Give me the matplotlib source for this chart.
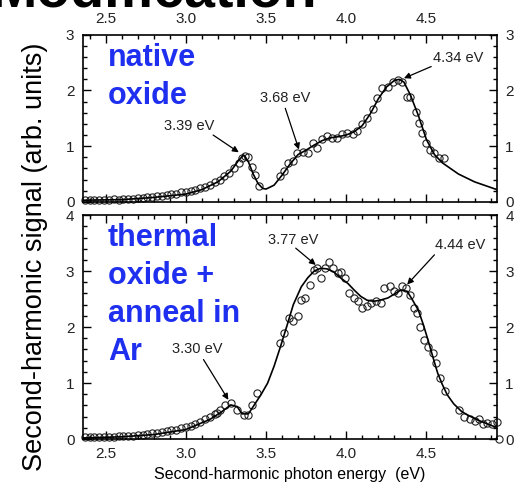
import numpy as np
import matplotlib
matplotlib.use("Agg")
import matplotlib.pyplot as plt
from matplotlib.ticker import MultipleLocator

plt.rcParams['font.family'] = ['Liberation Sans', 'DejaVu Sans']

# ---- top panel: native oxide ----
top_fit_x = [2.36, 2.6, 2.8, 3.0, 3.1, 3.2, 3.28, 3.33, 3.36, 3.39, 3.42, 3.45, 3.48, 3.50,
             3.55, 3.60, 3.65, 3.70, 3.75, 3.80, 3.85, 3.90, 3.95, 4.00, 4.05, 4.10, 4.15,
             4.20, 4.25, 4.30, 4.33, 4.36, 4.40, 4.45, 4.50, 4.55, 4.60, 4.70, 4.80, 4.94]
top_fit_y = [0.03, 0.04, 0.08, 0.14, 0.22, 0.36, 0.55, 0.75, 0.84, 0.72, 0.50, 0.33, 0.24, 0.23,
             0.30, 0.48, 0.68, 0.85, 0.93, 1.02, 1.10, 1.15, 1.17, 1.20, 1.26, 1.37, 1.58,
             1.85, 2.06, 2.18, 2.20, 2.15, 1.92, 1.55, 1.12, 0.85, 0.70, 0.50, 0.36, 0.22]

top_pts_x = [2.37, 2.40, 2.43, 2.46, 2.49, 2.52, 2.55, 2.58, 2.61, 2.64, 2.67, 2.70, 2.73, 2.76,
             2.79, 2.82, 2.85, 2.88, 2.91, 2.94, 2.97, 3.00, 3.03, 3.06, 3.09, 3.12, 3.15, 3.18,
             3.21, 3.24, 3.27, 3.30, 3.33, 3.35, 3.37, 3.39, 3.41, 3.43, 3.455,
             3.59, 3.61, 3.64, 3.67, 3.695, 3.73, 3.76, 3.79, 3.82, 3.85, 3.88, 3.91, 3.945,
             3.975, 4.005, 4.04, 4.07, 4.10, 4.13, 4.165, 4.195, 4.225, 4.26, 4.29, 4.32,
             4.35, 4.38, 4.40, 4.435, 4.455, 4.475, 4.50, 4.52, 4.55, 4.58, 4.61]
top_pts_y = [0.03, 0.03, 0.04, 0.03, 0.04, 0.04, 0.05, 0.04, 0.05, 0.06, 0.05, 0.07, 0.07, 0.08,
             0.09, 0.10, 0.11, 0.12, 0.14, 0.15, 0.17, 0.18, 0.20, 0.22, 0.25, 0.27, 0.30, 0.36,
             0.40, 0.46, 0.52, 0.60, 0.70, 0.78, 0.83, 0.80, 0.63, 0.48, 0.29,
             0.46, 0.55, 0.70, 0.73, 0.88, 0.90, 0.88, 1.06, 0.97, 1.12, 1.18, 1.15, 1.15,
             1.21, 1.24, 1.21, 1.27, 1.39, 1.51, 1.66, 1.86, 2.04, 2.07, 2.16, 2.19,
             2.16, 1.89, 1.89, 1.62, 1.42, 1.24, 1.06, 0.94, 0.88, 0.79, 0.79]

# ---- bottom panel: thermal oxide + anneal in Ar ----
bot_fit_x = [2.36, 2.6, 2.8, 3.0, 3.15, 3.22, 3.28, 3.32, 3.35, 3.39, 3.42, 3.47, 3.51, 3.55,
             3.59, 3.63, 3.67, 3.72, 3.76, 3.80, 3.84, 3.88, 3.92, 3.96, 4.01, 4.05, 4.09,
             4.13, 4.17, 4.21, 4.26, 4.30, 4.34, 4.38, 4.41, 4.45, 4.48, 4.51, 4.54, 4.57,
             4.60, 4.63, 4.67, 4.72, 4.77, 4.82, 4.88, 4.945]
bot_fit_y = [0.02, 0.04, 0.08, 0.17, 0.35, 0.48, 0.61, 0.58, 0.45, 0.45, 0.58, 0.80, 1.00, 1.30,
             1.65, 2.02, 2.40, 2.72, 2.88, 3.00, 3.05, 3.04, 2.99, 2.89, 2.78, 2.66, 2.55,
             2.48, 2.46, 2.48, 2.52, 2.59, 2.66, 2.64, 2.50, 2.30, 2.05, 1.77, 1.47, 1.18,
             0.97, 0.79, 0.63, 0.49, 0.41, 0.34, 0.27, 0.20]

bot_pts_x = [2.37, 2.40, 2.43, 2.46, 2.49, 2.52, 2.55, 2.58, 2.61, 2.64, 2.67, 2.70, 2.73, 2.76,
             2.79, 2.82, 2.85, 2.88, 2.91, 2.94, 2.97, 3.00, 3.03, 3.06, 3.09, 3.12, 3.15, 3.18,
             3.195, 3.215, 3.245, 3.28, 3.32, 3.36, 3.39, 3.41, 3.445,
             3.59, 3.615, 3.645, 3.67, 3.70, 3.72, 3.745, 3.775, 3.80, 3.82, 3.845, 3.87, 3.895,
             3.92, 3.95, 3.97, 3.99, 4.02, 4.05, 4.075, 4.10, 4.13, 4.155, 4.185, 4.215, 4.235,
             4.27, 4.30, 4.325, 4.345, 4.37, 4.395, 4.42, 4.44, 4.46, 4.485, 4.51, 4.54, 4.56,
             4.585, 4.615, 4.705, 4.735, 4.77, 4.80, 4.83, 4.85, 4.88, 4.91, 4.94, 4.955]
bot_pts_y = [0.03, 0.03, 0.03, 0.04, 0.04, 0.04, 0.04, 0.05, 0.05, 0.06, 0.06, 0.07, 0.08, 0.09,
             0.10, 0.11, 0.13, 0.14, 0.16, 0.17, 0.19, 0.21, 0.24, 0.27, 0.31, 0.35, 0.39, 0.44,
             0.46, 0.52, 0.61, 0.64, 0.52, 0.43, 0.43, 0.61, 0.82,
             1.71, 1.89, 2.16, 2.10, 2.19, 2.49, 2.52, 2.76, 3.02, 3.05, 2.87, 3.05, 3.17,
             3.05, 2.96, 2.99, 2.87, 2.61, 2.52, 2.46, 2.34, 2.37, 2.43, 2.46, 2.43, 2.70,
             2.73, 2.64, 2.61, 2.73, 2.70, 2.58, 2.34, 2.25, 2.01, 1.77, 1.65, 1.54, 1.36,
             1.09, 0.85, 0.52, 0.40, 0.35, 0.32, 0.35, 0.26, 0.29, 0.27, 0.30, 0.0]

# peak annotations: label, text position, arrow tail, arrow head
top_notes = [("3.39 eV", (3.02, 1.36), (3.17, 1.20), (3.33, 0.89)),
             ("3.68 eV", (3.62, 1.86), (3.62, 1.68), (3.705, 0.94)),
             ("4.34 eV", (4.70, 2.59), (4.53, 2.43), (4.36, 2.22))]
bot_notes = [("3.30 eV", (3.07, 1.60), (3.11, 1.42), (3.265, 0.70)),
             ("3.77 eV", (3.67, 3.56), (3.685, 3.41), (3.81, 3.11)),
             ("4.44 eV", (4.71, 3.47), (4.55, 3.29), (4.38, 2.76))]

top_label_lines = ["native", "oxide"]
bot_label_lines = ["thermal", "oxide +", "anneal in", "Ar"]

fig = plt.figure(figsize=(5.27, 4.90), dpi=100)
ax1 = fig.add_axes([0.157, 0.588, 0.786, 0.341])
ax2 = fig.add_axes([0.157, 0.104, 0.786, 0.457])

def style(ax, ymax, top_labels):
    ax.set_xlim(2.357, 4.94)
    ax.set_ylim(0, ymax)
    ax.xaxis.set_major_locator(MultipleLocator(0.5))
    ax.xaxis.set_minor_locator(MultipleLocator(0.1))
    ax.yaxis.set_major_locator(MultipleLocator(1))
    ax.yaxis.set_minor_locator(MultipleLocator(0.2))
    ax.tick_params(which='both', direction='in', top=True, bottom=True, left=True, right=True,
                   labelleft=True, labelright=True, labeltop=top_labels,
                   labelbottom=not top_labels, labelsize=11, labelcolor='#222222', width=1.0)
    ax.tick_params(which='major', length=5.5, pad=6)
    ax.tick_params(which='minor', length=3)
    ax.xaxis.set_major_formatter(plt.FuncFormatter(lambda v, p: "%.1f" % v))
    for s in ax.spines.values():
        s.set_linewidth(1.2)

for ax, fx, fy, px, py, notes, ymax, tl in [
        (ax1, top_fit_x, top_fit_y, top_pts_x, top_pts_y, top_notes, 3, True),
        (ax2, bot_fit_x, bot_fit_y, bot_pts_x, bot_pts_y, bot_notes, 4, False)]:
    ax.plot(px, py, 'o', mfc='none', mec='#222222', ms=5.2, mew=0.8, clip_on=False)
    ax.plot(fx, fy, '-', color='black', lw=1.2)
    for lab, tpos, tail, head in notes:
        ax.text(tpos[0], tpos[1], lab, fontsize=10.5, ha='center', va='center', color='#222222')
        ax.annotate('', xy=head, xytext=tail,
                    arrowprops=dict(arrowstyle='-|>', color='black', lw=0.9,
                                    mutation_scale=9, shrinkA=0, shrinkB=0))
    style(ax, ymax, tl)

# blue sample labels, one text per line (baselines ~38 px apart)
for ax, lines, y0 in [(ax1, top_label_lines, 66), (ax2, bot_label_lines, 246)]:
    for k, line in enumerate(lines):
        ypix = 490 - (y0 + 38 * k)
        ax.text(108 / 527, ypix / 490, line, transform=fig.transFigure, color='#1f2ff0',
                fontsize=22, fontweight='bold', va='baseline', ha='left')

ax2.set_xlabel("Second-harmonic photon energy  (eV)", fontsize=11.5, labelpad=4)
fig.text(0.066, 0.475, "Second-harmonic signal (arb. units)", rotation=90, fontsize=19.5,
         ha='center', va='center')
fig.text(0.6015, 0.987, "Modification", fontsize=40, fontweight='bold', ha='right',
         va='baseline')

fig.savefig("out.png", dpi=100)
